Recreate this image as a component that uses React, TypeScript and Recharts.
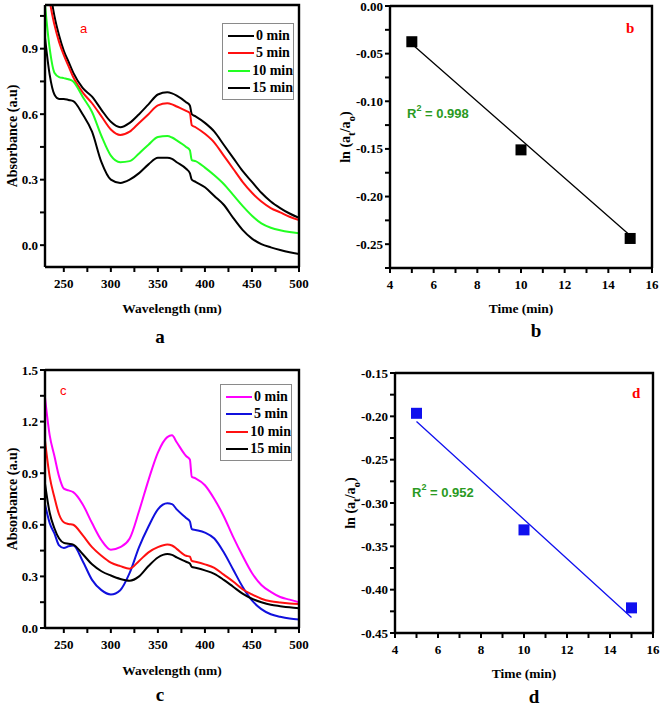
import React from 'react';
import { ComposedChart, Line, XAxis, YAxis, Scatter, Legend, Label } from 'recharts';

// ---------- data ----------
const WAVELENGTH = [230, 235, 240, 245, 250, 255, 260, 270, 280, 290, 300, 310, 320, 330, 340, 350, 360, 365, 370, 380, 384, 386, 390, 400, 410, 420, 430, 440, 450, 460, 470, 480, 490, 500];

// panel a
const A_0MIN = [1.35, 1.18, 1.05, 0.96, 0.89, 0.84, 0.79, 0.72, 0.68, 0.62, 0.565, 0.54, 0.56, 0.60, 0.645, 0.69, 0.70, 0.695, 0.685, 0.655, 0.64, 0.60, 0.59, 0.56, 0.52, 0.46, 0.40, 0.34, 0.29, 0.24, 0.20, 0.17, 0.145, 0.125];
const A_5MIN = [1.30, 1.12, 1.01, 0.93, 0.87, 0.82, 0.77, 0.70, 0.65, 0.59, 0.53, 0.505, 0.52, 0.56, 0.60, 0.64, 0.65, 0.645, 0.635, 0.615, 0.605, 0.55, 0.54, 0.51, 0.47, 0.41, 0.35, 0.29, 0.24, 0.20, 0.17, 0.15, 0.13, 0.115];
const A_10MIN = [1.10, 0.90, 0.79, 0.77, 0.765, 0.76, 0.75, 0.68, 0.61, 0.50, 0.41, 0.38, 0.385, 0.42, 0.46, 0.495, 0.50, 0.493, 0.48, 0.45, 0.435, 0.39, 0.385, 0.355, 0.32, 0.28, 0.23, 0.18, 0.135, 0.10, 0.08, 0.068, 0.06, 0.055];
const A_15MIN = [0.95, 0.78, 0.69, 0.67, 0.67, 0.665, 0.66, 0.60, 0.52, 0.38, 0.30, 0.285, 0.30, 0.33, 0.37, 0.40, 0.40, 0.395, 0.38, 0.35, 0.33, 0.30, 0.29, 0.265, 0.225, 0.185, 0.125, 0.07, 0.03, 0.005, -0.01, -0.022, -0.032, -0.04];

// panel c
const C_0MIN = [1.34, 1.12, 1.00, 0.88, 0.81, 0.80, 0.79, 0.72, 0.61, 0.51, 0.455, 0.47, 0.52, 0.68, 0.86, 1.02, 1.11, 1.12, 1.08, 1.00, 0.98, 0.88, 0.87, 0.83, 0.75, 0.65, 0.53, 0.42, 0.32, 0.25, 0.21, 0.18, 0.165, 0.15];
const C_5MIN = [0.72, 0.61, 0.55, 0.48, 0.465, 0.475, 0.48, 0.39, 0.28, 0.22, 0.195, 0.22, 0.32, 0.47, 0.59, 0.69, 0.725, 0.72, 0.69, 0.64, 0.62, 0.575, 0.57, 0.555, 0.52, 0.44, 0.34, 0.24, 0.16, 0.11, 0.08, 0.065, 0.055, 0.05];
const C_10MIN = [1.09, 0.88, 0.76, 0.66, 0.615, 0.605, 0.60, 0.54, 0.47, 0.42, 0.38, 0.36, 0.345, 0.39, 0.44, 0.47, 0.485, 0.48, 0.46, 0.42, 0.415, 0.39, 0.385, 0.37, 0.35, 0.31, 0.27, 0.225, 0.195, 0.17, 0.155, 0.148, 0.143, 0.14];
const C_15MIN = [0.84, 0.67, 0.58, 0.52, 0.495, 0.49, 0.485, 0.43, 0.37, 0.33, 0.305, 0.285, 0.275, 0.30, 0.36, 0.41, 0.43, 0.425, 0.41, 0.385, 0.375, 0.355, 0.35, 0.335, 0.315, 0.28, 0.24, 0.20, 0.17, 0.15, 0.135, 0.127, 0.12, 0.115];

// kinetics
const TIME = [5, 10, 15];
const B_OBS = [-0.0375, -0.151, -0.244];
const B_FIT = [-0.040, -0.1405, -0.241];
const D_OBS = [-0.1965, -0.331, -0.421];
const D_FIT = [-0.206, -0.319, -0.432];

const SERIES_LABELS = ['0 min', '5 min', '10 min', '15 min'];
const A_COLORS = ['#000000', '#ff1010', '#22ff22', '#000000'];
const C_COLORS = ['#ff00ff', '#1010dd', '#ff1010', '#000000'];

// ticks
const WL_MAJOR = [250, 300, 350, 400, 450, 500];
const WL_MINOR = [275, 325, 375, 425, 475];
const A_Y_MAJOR = [0, 0.3, 0.6, 0.9];
const A_Y_MINOR = [0.15, 0.45, 0.75, 1.05];
const C_Y_MAJOR = [0, 0.3, 0.6, 0.9, 1.2, 1.5];
const C_Y_MINOR = [0.15, 0.45, 0.75, 1.05, 1.35];
const T_MAJOR = [4, 6, 8, 10, 12, 14, 16];
const T_MINOR = [5, 7, 9, 11, 13, 15];
const B_Y_MAJOR = [-0.25, -0.2, -0.15, -0.1, -0.05, 0];
const B_Y_MINOR = [-0.275, -0.225, -0.175, -0.125, -0.075, -0.025];
const D_Y_MAJOR = [-0.45, -0.4, -0.35, -0.3, -0.25, -0.2, -0.15];
const D_Y_MINOR = [-0.425, -0.375, -0.325, -0.275, -0.225, -0.175];

// ---------- styling ----------
const SERIF = "'Liberation Serif', 'Times New Roman', serif";
const SANS = "'Liberation Sans', Arial, sans-serif";
const TICK_SIZE = 5;
const TICK_MARGIN = 2;
const INK = '#000000';
const tickLineStyle = { stroke: INK, strokeWidth: 2 };
const axisLineStyle = { stroke: INK, strokeWidth: 2.4 };

const rowsA = WAVELENGTH.map((wl, i) => ({ wl, s0: A_0MIN[i], s5: A_5MIN[i], s10: A_10MIN[i], s15: A_15MIN[i] }));
const rowsC = WAVELENGTH.map((wl, i) => ({ wl, s0: C_0MIN[i], s5: C_5MIN[i], s10: C_10MIN[i], s15: C_15MIN[i] }));
const rowsB = TIME.map((t, i) => ({ t, obs: B_OBS[i], fit: B_FIT[i] }));
const rowsD = TIME.map((t, i) => ({ t, obs: D_OBS[i], fit: D_FIT[i] }));

const isIn = (arr: number[], v: number) => arr.some((m) => Math.abs(m - v) < 1e-9);

const makeXTick = (majors: number[], fmt: (v: number) => string) => (p: any) => {
  const { x, y, payload } = p;
  const v = payload.value;
  if (!isIn(majors, v)) return <g />;
  return (
    <text x={x} y={Number(y) + 9} textAnchor="middle" dominantBaseline="central" fontFamily={SERIF} fontWeight={700} fontSize={13} fill="#000">
      {fmt(v)}
    </text>
  );
};

const makeYTick = (majors: number[], fmt: (v: number) => string) => (p: any) => {
  const { x, y, payload } = p;
  const v = payload.value;
  if (!isIn(majors, v)) return <g />;
  return (
    <text x={x} y={y} textAnchor="end" dominantBaseline="central" fontFamily={SERIF} fontWeight={700} fontSize={13} fill="#000">
      {fmt(v)}
    </text>
  );
};

const xTitle = (text: string, dy: number, size: number, dx = 0) => (p: any) => {
  const vb = p.viewBox;
  return (
    <text x={vb.x + vb.width / 2 + dx} y={vb.y + dy} textAnchor="middle" dominantBaseline="central" fontFamily={SERIF} fontWeight={700} fontSize={size} fill="#000">
      {text}
    </text>
  );
};

const yTitleAbs = (dx: number) => (p: any) => {
  const vb = p.viewBox;
  const cx = vb.x + dx;
  const cy = vb.y + vb.height / 2;
  return (
    <text x={cx} y={cy} transform={`rotate(-90, ${cx}, ${cy})`} textAnchor="middle" dominantBaseline="central" fontFamily={SERIF} fontWeight={700} fontSize={14} fill="#000">
      Absorbance (a.u)
    </text>
  );
};

const yTitleLn = (dx: number) => (p: any) => {
  const vb = p.viewBox;
  const cx = vb.x + dx;
  const cy = vb.y + vb.height / 2;
  return (
    <text x={cx} y={cy} transform={`rotate(-90, ${cx}, ${cy})`} textAnchor="middle" dominantBaseline="central" fontFamily={SERIF} fontWeight={700} fontSize={14} fill="#000">
      ln (a<tspan baselineShift="sub" fontSize={11}>t</tspan>/a<tspan baselineShift="sub" fontSize={11}>o</tspan>)
    </text>
  );
};

// top/right frame + in-plot annotations, relative to the plot box (y axis viewBox: x = axis left, y = plot top)
const frameAndNotes = (axisW: number, plotW: number, items: { text: any; dx: number; dy: number; color: string; family: string; weight: number; size: number }[]) => (p: any) => {
  const vb = p.viewBox;
  const left = vb.x + axisW;
  return (
    <g>
      <path d={`M${left},${vb.y} H${left + plotW} V${vb.y + vb.height}`} fill="none" stroke={INK} strokeWidth={2.4} />
      {items.map((it, i) => (
        <text key={i} x={left + it.dx} y={vb.y + it.dy} dominantBaseline="central" fontFamily={it.family} fontWeight={it.weight} fontSize={it.size} fill={it.color}>
          {it.text}
        </text>
      ))}
    </g>
  );
};

const makeLegend = (labels: string[], colors: string[]) => () => (
  <div style={{ border: '1px solid #8a8a8a', background: '#fff', padding: '3px 0 2px 5px', boxSizing: 'border-box', width: 72, whiteSpace: 'nowrap' }}>
    {labels.map((lab, i) => (
      <div key={i} style={{ display: 'flex', alignItems: 'center', height: 17.5 }}>
        <span style={{ display: 'inline-block', width: 26, height: 0, borderTop: `2px solid ${colors[i]}`, marginRight: 2 }} />
        <span style={{ fontFamily: SERIF, fontWeight: 700, fontSize: 14, color: '#000', lineHeight: '14px' }}>{lab}</span>
      </div>
    ))}
  </div>
);

const SpectraChart = ({ rows, colors, yDomain, yMajor, yMinor, yFmt, marginTop, height, axisH, letter, letterDx, letterDy, legendPos, titleDy, capDy }: any) => (
  <ComposedChart width={330} height={height} data={rows} margin={{ top: marginTop, right: 31, bottom: 0, left: 0 }}>
    <XAxis
      dataKey="wl"
      type="number"
      domain={[230, 500]}
      allowDataOverflow
      ticks={[...WL_MAJOR, ...WL_MINOR].sort((a, b) => a - b)}
      interval={0}
      tickSize={TICK_SIZE}
      tickMargin={TICK_MARGIN}
      tickLine={tickLineStyle}
      axisLine={axisLineStyle}
      height={axisH}
      tick={makeXTick(WL_MAJOR, (v) => String(v))}
    >
      <Label content={xTitle('Wavelength (nm)', titleDy, 13.5)} />
      <Label content={xTitle(letter, capDy, 19, -12)} />
    </XAxis>
    <YAxis
      type="number"
      domain={yDomain}
      allowDataOverflow
      ticks={[...yMajor, ...yMinor].sort((a: number, b: number) => a - b)}
      interval={0}
      tickSize={TICK_SIZE}
      tickMargin={TICK_MARGIN}
      tickLine={tickLineStyle}
      axisLine={axisLineStyle}
      width={45}
      tick={makeYTick(yMajor, yFmt)}
    >
      <Label content={yTitleAbs(12)} />
      <Label content={frameAndNotes(45, 330 - 31 - 45, [{ text: letter, dx: letterDx, dy: letterDy, color: '#ff0000', family: SANS, weight: 400, size: 13 }])} />
    </YAxis>
    {['s0', 's5', 's10', 's15'].map((k, i) => (
      <Line key={k} dataKey={k} name={SERIES_LABELS[i]} type="monotone" stroke={colors[i]} strokeWidth={2} dot={false} isAnimationActive={false} />
    ))}
    <Legend layout="vertical" align="center" verticalAlign="middle" content={makeLegend(SERIES_LABELS, colors)} wrapperStyle={{ left: legendPos[0], top: legendPos[1], width: 72, height: 'auto' }} />
  </ComposedChart>
);

const KineticsChart = ({ rows, color, yDomain, yMajor, yMinor, marginTop, height, axisH, yW, marginRight, letter, r2, r2Dy, letterDx, letterDy, titleDy, capDy, capDx, ylabDx }: any) => (
  <ComposedChart width={331} height={height} data={rows} margin={{ top: marginTop, right: marginRight, bottom: 0, left: 0 }}>
    <XAxis
      dataKey="t"
      type="number"
      domain={[4, 16]}
      ticks={[...T_MAJOR, ...T_MINOR].sort((a, b) => a - b)}
      interval={0}
      tickSize={TICK_SIZE}
      tickMargin={TICK_MARGIN}
      tickLine={tickLineStyle}
      axisLine={axisLineStyle}
      height={axisH}
      tick={makeXTick(T_MAJOR, (v) => String(v))}
    >
      <Label content={xTitle('Time (min)', titleDy, 13.5)} />
      <Label content={xTitle(letter, capDy, 19, capDx)} />
    </XAxis>
    <YAxis
      type="number"
      domain={yDomain}
      allowDataOverflow
      ticks={[...yMajor, ...yMinor].sort((a: number, b: number) => a - b)}
      interval={0}
      tickSize={TICK_SIZE}
      tickMargin={TICK_MARGIN}
      tickLine={tickLineStyle}
      axisLine={axisLineStyle}
      width={yW}
      tick={makeYTick(yMajor, (v: number) => v.toFixed(2))}
    >
      <Label content={yTitleLn(ylabDx)} />
      <Label
        content={frameAndNotes(yW, 331 - marginRight - yW, [
          { text: letter, dx: letterDx, dy: letterDy, color: '#ff0000', family: SERIF, weight: 700, size: 15 },
          {
            text: (
              <>
                R<tspan baselineShift="super" fontSize={9}>2</tspan> = {r2}
              </>
            ),
            dx: 17,
            dy: r2Dy,
            color: '#2a9a22',
            family: SANS,
            weight: 700,
            size: 13,
          },
        ])}
      />
    </YAxis>
    <Line dataKey="fit" type="linear" stroke={color} strokeWidth={1.3} dot={false} isAnimationActive={false} />
    <Scatter
      dataKey="obs"
      fill={color}
      isAnimationActive={false}
      shape={(p: any) => <rect x={p.cx - 5.5} y={p.cy - 5.5} width={11} height={11} fill={color} />}
    />
  </ComposedChart>
);

export default function App() {
  return (
    <div style={{ position: 'absolute', left: 0, top: 0, width: 661, height: 707, background: '#fff', overflow: 'hidden' }}>
      <div style={{ position: 'absolute', left: 0, top: 0 }}>
        <SpectraChart
          rows={rowsA}
          colors={A_COLORS}
          yDomain={[-0.1, 1.1]}
          yMajor={A_Y_MAJOR}
          yMinor={A_Y_MINOR}
          yFmt={(v: number) => v.toFixed(1)}
          marginTop={5}
          height={345}
          axisH={78}
          letter="a"
          letterDx={35}
          letterDy={23}
          legendPos={[222, 23]}
          titleDy={41}
          capDy={69}
        />
      </div>
      <div style={{ position: 'absolute', left: 330, top: 0 }}>
        <KineticsChart
          rows={rowsB}
          color="#000000"
          yDomain={[-0.275, 0]}
          yMajor={B_Y_MAJOR}
          yMinor={B_Y_MINOR}
          marginTop={6}
          height={345}
          axisH={77}
          yW={60}
          marginRight={9}
          letter="b"
          r2="0.998"
          r2Dy={107}
          letterDx={236}
          letterDy={22}
          titleDy={40}
          capDy={62}
          capDx={15}
          ylabDx={15}
        />
      </div>
      <div style={{ position: 'absolute', left: 0, top: 350 }}>
        <SpectraChart
          rows={rowsC}
          colors={C_COLORS}
          yDomain={[0, 1.5]}
          yMajor={C_Y_MAJOR}
          yMinor={C_Y_MINOR}
          yFmt={(v: number) => v.toFixed(1)}
          marginTop={20}
          height={357}
          axisH={79}
          letter="c"
          letterDx={15}
          letterDy={20}
          legendPos={[220, 34]}
          titleDy={42}
          capDy={66}
        />
      </div>
      <div style={{ position: 'absolute', left: 330, top: 350 }}>
        <KineticsChart
          rows={rowsD}
          color="#1010ee"
          yDomain={[-0.45, -0.15]}
          yMajor={D_Y_MAJOR}
          yMinor={D_Y_MINOR}
          marginTop={23}
          height={357}
          axisH={74}
          yW={65}
          marginRight={8}
          letter="d"
          r2="0.952"
          r2Dy={119}
          letterDx={237}
          letterDy={20}
          titleDy={40}
          capDy={63}
          capDx={10}
          ylabDx={20}
        />
      </div>
    </div>
  );
}
